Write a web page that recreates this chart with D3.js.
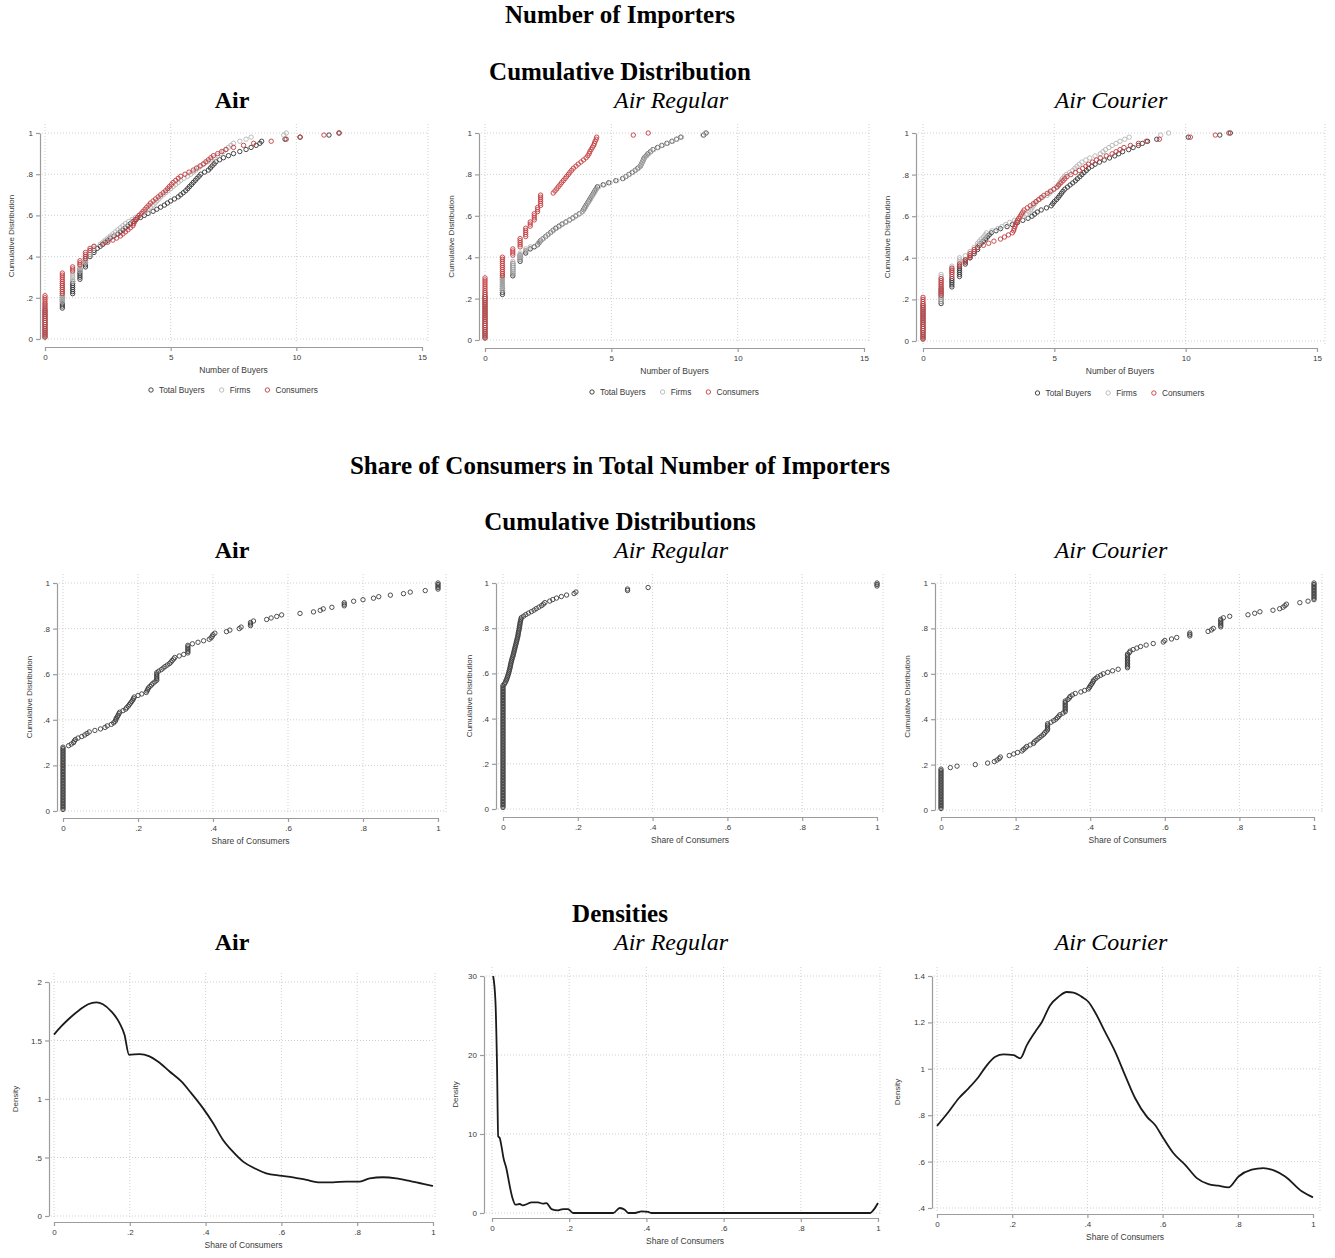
<!DOCTYPE html>
<html>
<head>
<meta charset="utf-8">
<script src="https://cdnjs.cloudflare.com/ajax/libs/d3/7.8.5/d3.min.js"></script>
<style>
body { margin: 0; background: #fff; }
text { font-family: "Liberation Sans", Arial, sans-serif; }
.ttl { font-family: "Liberation Serif", "Times New Roman", serif; }
</style>
</head>
<body>
<script>
const panelNames = ["Air", "Air Regular", "Air Courier"];
const seriesNames = ["Total Buyers", "Firms", "Consumers"];
const buyerTicks = [0, 5, 10, 15];
const cdfTicks = [0, .2, .4, .6, .8, 1];
const shareTicks = [0, .2, .4, .6, .8, 1];
const airDensTicks = [0, .5, 1, 1.5, 2];
const regDensTicks = [0, 10, 20, 30];
const courDensTicks = [.4, .6, .8, 1, 1.2, 1.4];

// number of buyers (log scale): repeated values as [value, count], single values in the tail lists
const airTotalStack = [[0,14],[0.69,7],[1.1,7],[1.39,6],[1.61,5],[1.79,2],[1.95,2],[2.08,1]];
const airTotalTail = [2.2,2.3,2.4,2.5,2.6,2.75,2.9,3.0,3.1,3.2,3.3,3.4,3.5,3.63,3.8,3.95,4.1,4.3,4.45,4.6,4.75,4.87,5.0,5.15,5.3,5.4,5.5,5.6,5.68,5.75,5.83,5.9,5.98,6.05,6.13,6.2,6.35,6.5,6.58,6.65,6.73,6.8,6.95,7.1,7.3,7.5,7.75,8.0,8.2,8.4,8.55,8.62,9.55,10.15,11.3,11.7];
const airFirmsStack = [[0,17],[0.69,10],[1.1,5],[1.39,4],[1.61,4],[1.79,3],[1.95,2]];
const airFirmsTail = [2.2,2.3,2.4,2.5,2.6,2.7,2.8,2.9,3.0,3.1,3.2,3.33,3.47,3.6,3.73,3.87,4.0,4.1,4.2,4.3,4.38,4.45,4.53,4.6,4.7,4.8,4.9,5.0,5.1,5.2,5.3,5.4,5.53,5.67,5.8,5.9,6.0,6.1,6.2,6.33,6.47,6.6,6.73,6.87,7.0,7.1,7.2,7.3,7.4,7.5,7.75,8.0,8.2,9.5,9.6];
const airConsStack = [[0,21],[0.69,11],[1.1,3],[1.39,3],[1.61,4],[1.79,2],[1.95,1]];
const airConsTail = [2.3,2.5,2.7,2.85,3.0,3.1,3.2,3.3,3.4,3.5,3.53,3.57,3.6,3.68,3.75,3.83,3.9,3.98,4.05,4.13,4.2,4.3,4.4,4.5,4.6,4.7,4.8,4.88,4.95,5.03,5.1,5.2,5.3,5.4,5.57,5.73,5.9,6.03,6.17,6.3,6.4,6.5,6.6,6.7,6.87,7.03,7.2,7.5,7.9,8.3,9.0,9.6,10.15,11.1,11.7];

const regTotalStack = [[0,21],[0.69,9],[1.1,7],[1.39,4],[1.61,2],[1.79,1],[1.95,1]];
const regTotalTail = [2.08,2.14,2.2,2.3,2.4,2.5,2.6,2.7,2.8,2.93,3.05,3.2,3.35,3.48,3.6,3.73,3.85,3.9,3.95,4.0,4.05,4.1,4.15,4.2,4.25,4.3,4.35,4.4,4.45,4.68,4.9,5.18,5.45,5.58,5.7,5.83,5.95,6.05,6.15,6.19,6.23,6.27,6.3,6.38,6.45,6.55,6.65,6.83,7.0,7.2,7.4,7.58,7.75,8.65,8.75];
const regFirmsStack = [[0,23],[0.69,8],[1.1,7],[1.39,4],[1.61,2],[1.79,1]];
const regFirmsTail = [2.06,2.12,2.22,2.32,2.42,2.52,2.62,2.72,2.84,2.96,3.08,3.22,3.36,3.5,3.62,3.75,3.86,3.92,3.97,4.02,4.07,4.12,4.17,4.22,4.27,4.32,4.37,4.42,4.5,4.72,4.95,5.22,5.48,5.6,5.72,5.86,5.97,6.08,6.16,6.2,6.24,6.28,6.32,6.4,6.48,6.57,6.68,6.86,7.03,7.23,7.43,7.6,7.78,8.62,8.72];
const regConsStack = [[0,30],[0.69,10],[1.1,4],[1.39,5],[1.61,5],[1.79,3],[1.95,4],[2.08,3],[2.2,6]];
const regConsTail = [2.7,2.77,2.84,2.9,2.97,3.03,3.1,3.17,3.23,3.3,3.36,3.43,3.5,3.6,3.69,3.8,3.9,4.0,4.07,4.12,4.15,4.2,4.25,4.3,4.33,4.36,4.4,4.42,5.87,6.46];

const courTotalStack = [[0,17],[0.69,8],[1.1,5],[1.39,6],[1.61,3],[1.79,2],[1.95,2],[2.08,2]];
const courTotalTail = [2.15,2.22,2.3,2.38,2.45,2.52,2.6,2.78,2.95,3.2,3.4,3.6,3.8,4.0,4.15,4.25,4.35,4.5,4.7,4.88,4.94,5.0,5.08,5.15,5.21,5.27,5.33,5.4,5.5,5.6,5.7,5.8,5.88,5.97,6.05,6.13,6.22,6.3,6.43,6.55,6.72,6.9,7.1,7.3,7.45,7.6,7.83,8.0,8.2,8.35,8.55,8.9,10.1,11.3,11.7];
const courFirmsStack = [[0,18],[0.69,14],[1.1,4],[1.39,4],[1.61,1],[1.79,2],[1.95,2],[2.08,2]];
const courFirmsTail = [2.15,2.22,2.3,2.36,2.42,2.63,2.85,3.0,3.15,3.3,3.48,3.65,3.8,3.96,4.03,4.1,4.15,4.2,4.26,4.32,4.44,4.55,4.72,4.81,4.9,5.0,5.1,5.15,5.2,5.25,5.3,5.38,5.45,5.58,5.7,5.78,5.86,5.95,6.05,6.2,6.35,6.55,6.75,6.85,6.95,7.08,7.2,7.35,7.5,7.68,7.85,9.05,9.35];
const courConsStack = [[0,21],[0.69,9],[1.1,5],[1.39,2],[1.61,2],[1.79,3],[1.95,2],[2.08,1]];
const courConsTail = [2.3,2.5,2.7,2.95,3.1,3.25,3.4,3.45,3.47,3.5,3.52,3.55,3.6,3.65,3.7,3.75,3.8,3.85,3.97,4.08,4.2,4.3,4.4,4.5,4.6,4.73,4.85,4.98,5.1,5.17,5.25,5.33,5.4,5.48,5.63,5.8,5.95,6.08,6.2,6.3,6.45,6.6,6.75,6.98,7.2,7.35,7.5,7.65,7.9,8.2,8.5,9.0,10.18,11.13,11.64];

// share of consumers
const airShareStack = [[0,42],[0.25,6],[0.333,6],[0.5,3],[0.75,3],[1,5]];
const airShareTail = [0.015,0.022,0.028,0.030,0.033,0.040,0.050,0.058,0.064,0.070,0.085,0.100,0.112,0.118,0.129,0.135,0.139,0.141,0.142,0.145,0.147,0.149,0.151,0.160,0.167,0.170,0.174,0.177,0.180,0.183,0.186,0.188,0.190,0.200,0.210,0.222,0.224,0.226,0.228,0.232,0.236,0.240,0.245,
  0.255,0.262,0.267,0.272,0.278,0.284,0.288,0.291,0.295,0.298,0.31,0.322,
  0.345,0.36,0.375,0.39,0.395,0.398,0.4,0.405,0.436,0.445,0.47,0.475,
  0.508,0.543,0.555,0.57,0.583,0.632,0.668,0.686,0.694,0.717,
  0.775,0.8,0.828,0.842,0.873,0.908,0.926,0.966];
const regShareStack = [[0,82],[0.333,2],[1,3]];
const regShareTail = [0.004,0.006,0.008,0.0095,0.011,0.0125,0.0135,0.015,0.016,0.017,0.018,0.019,0.0198,0.0205,0.0215,0.0225,0.0235,0.0245,0.026,0.027,0.028,0.029,0.030,0.031,0.032,0.033,0.034,0.035,0.036,0.037,0.038,0.039,0.040,0.0405,0.041,0.042,0.043,0.0435,0.044,0.045,0.0455,0.046,0.047,0.048,0.049,
  0.055,0.061,0.068,0.076,0.083,0.089,0.096,0.103,0.108,0.112,0.125,0.133,0.143,0.156,0.17,0.19,0.195,0.388];
const courShareStack = [[0,27],[0.2857,5],[0.333,8],[0.5,10],[0.667,3],[0.75,6],[1,12]];
const courShareTail = [0.025,0.043,0.092,0.125,0.143,0.15,0.156,0.159,0.183,0.195,0.205,0.217,0.221,0.226,0.23,0.239,0.248,0.25,0.255,0.26,0.265,0.27,0.275,0.278,0.282,
  0.295,0.302,0.308,0.312,0.316,0.319,0.327,
  0.34,0.344,0.346,0.352,0.36,0.375,0.385,0.395,0.398,0.4,0.403,0.406,0.408,0.41,0.415,0.42,0.428,0.435,0.447,0.46,0.475,
  0.505,0.507,0.515,0.525,0.535,0.55,0.569,0.596,0.6,0.618,0.632,
  0.716,0.725,0.73,
  0.757,0.774,0.823,0.841,0.855,0.89,0.908,0.917,0.922,0.926,0.962,0.984];

// kernel densities [share, density]
const airDensity = [[0,1.55],[0.019,1.62],[0.041,1.69],[0.068,1.763],[0.09,1.81],[0.112,1.826],[0.129,1.81],[0.151,1.749],[0.173,1.649],[0.186,1.549],[0.198,1.378],[0.226,1.384],[0.252,1.364],[0.274,1.321],[0.305,1.235],[0.336,1.15],[0.362,1.05],[0.393,0.922],[0.42,0.793],[0.446,0.65],[0.472,0.55],[0.499,0.465],[0.529,0.408],[0.56,0.365],[0.595,0.345],[0.631,0.331],[0.666,0.308],[0.697,0.288],[0.736,0.288],[0.771,0.294],[0.807,0.294],[0.833,0.322],[0.868,0.331],[0.903,0.322],[0.938,0.3],[0.974,0.274],[1,0.257]];
const regDensity = [[0.003,30],[0.009,26.7],[0.013,18.7],[0.016,9.7],[0.02,9.5],[0.024,8.6],[0.03,6.9],[0.037,5.7],[0.046,3.4],[0.053,1.9],[0.061,1.05],[0.072,1.14],[0.08,0.97],[0.091,1.14],[0.102,1.35],[0.119,1.35],[0.132,1.18],[0.141,1.26],[0.154,0.5],[0.171,0.34],[0.184,0.5],[0.197,0.5],[0.21,0],[0.314,0],[0.331,0.63],[0.344,0.42],[0.353,0],[0.37,0],[0.388,0.21],[0.405,0.13],[0.413,0],[0.98,0],[0.989,0.42],[1,1.26]];
const courDensity = [[0,0.754],[0.031,0.815],[0.058,0.873],[0.084,0.916],[0.111,0.966],[0.133,1.016],[0.155,1.052],[0.177,1.062],[0.204,1.059],[0.221,1.045],[0.239,1.102],[0.261,1.159],[0.279,1.202],[0.301,1.274],[0.323,1.31],[0.345,1.331],[0.363,1.328],[0.385,1.31],[0.403,1.288],[0.42,1.245],[0.447,1.159],[0.474,1.073],[0.5,0.973],[0.527,0.873],[0.558,0.794],[0.58,0.758],[0.602,0.701],[0.629,0.636],[0.66,0.586],[0.691,0.529],[0.722,0.503],[0.748,0.496],[0.775,0.489],[0.802,0.536],[0.837,0.565],[0.868,0.572],[0.899,0.56],[0.926,0.536],[0.97,0.472],[1,0.446]];

const colTotal = "#333333", colFirms = "#b4b4b4", colCons = "#c23b3e", colShare = "#3c3c3c";

const svg = d3.select("body").append("svg").attr("width", 1335).attr("height", 1258);

function ecdf(stack, tail) {
  const xs = [];
  stack.forEach(([v, n]) => { for (let i = 0; i < n; i++) xs.push(v); });
  tail.forEach(v => xs.push(v));
  xs.sort(d3.ascending);
  return xs.map((v, i) => ({ x: v, y: (i + 1) / xs.length }));
}

const fmt = d => String(Math.round(d * 1000) / 1000).replace(/^0\./, ".");

function title(txt, x, y, bold, italic, size) {
  svg.append("text").attr("class", "ttl").attr("x", x).attr("y", y)
    .attr("text-anchor", "middle").attr("font-size", size)
    .attr("font-weight", bold ? "bold" : "normal")
    .attr("font-style", italic ? "italic" : "normal")
    .attr("fill", "#000").text(txt);
}

function panel(p) {
  const g = svg.append("g");
  const x = d3.scaleLinear().domain(p.xDom).range(p.xr);
  const y = d3.scaleLinear().domain(p.yDom).range(p.yr);
  const top = p.yr[1] - 9, bottom = p.yr[0] + 3;

  // dotted grid
  g.selectAll("line.gh").data(p.yTicks).join("line").attr("class", "gh")
    .attr("x1", p.axisX + 2).attr("x2", p.right).attr("y1", d => y(d)).attr("y2", d => y(d));
  g.selectAll("line.gv").data(p.xTicks.slice(0, -1).map(x).concat([p.right])).join("line").attr("class", "gv")
    .attr("x1", d => d).attr("x2", d => d).attr("y1", top).attr("y2", bottom);
  g.selectAll("line.gh, line.gv").attr("stroke", "#c4c4c4").attr("stroke-width", 0.8).attr("stroke-dasharray", "1,2");

  const ay = g.append("g").attr("transform", `translate(${p.axisX},0)`)
    .call(d3.axisLeft(y).tickValues(p.yTicks).tickFormat(fmt).tickSize(4).tickSizeOuter(0).tickPadding(3));
  const ax = g.append("g").attr("transform", `translate(0,${p.axisY})`)
    .call(d3.axisBottom(x).tickValues(p.xTicks).tickFormat(fmt).tickSize(4).tickSizeOuter(0).tickPadding(3));
  [ay, ax].forEach(a => {
    a.selectAll("path, line").attr("stroke", "#9c9c9c").attr("stroke-width", 1.2);
    a.selectAll("text").attr("font-size", 8).attr("fill", "#3a3a3a")
      .attr("font-family", "'Liberation Sans', Arial, sans-serif");
  });

  g.append("text").attr("transform", `translate(${p.yTitleX},${(p.yr[0] + p.yr[1]) / 2}) rotate(-90)`)
    .attr("text-anchor", "middle").attr("font-size", 8).attr("fill", "#3a3a3a").text(p.yTitle);
  g.append("text").attr("x", (p.xr[0] + p.xr[1]) / 2).attr("y", p.axisY + 26)
    .attr("text-anchor", "middle").attr("font-size", 8.5).attr("fill", "#3a3a3a").text(p.xTitle);

  (p.series || []).forEach(s => {
    g.append("g").selectAll("circle").data(s.points).join("circle")
      .attr("cx", d => x(d.x)).attr("cy", d => y(d.y)).attr("r", 2.2)
      .attr("fill", "none").attr("stroke", s.color).attr("stroke-width", 0.9);
  });

  if (p.density) {
    const line = d3.line().x(d => x(d[0])).y(d => y(d[1])).curve(d3.curveMonotoneX);
    g.append("path").datum(p.density).attr("d", line)
      .attr("fill", "none").attr("stroke", "#1a1a1a").attr("stroke-width", 1.8);
  }

  if (p.legY) {
    const colors = [colTotal, colFirms, colCons];
    const lg = g.append("g");
    let cx = 0;
    seriesNames.forEach((name, i) => {
      lg.append("circle").attr("cx", cx).attr("cy", 0).attr("r", 2.2)
        .attr("fill", "none").attr("stroke", colors[i]).attr("stroke-width", 0.9);
      const t = lg.append("text").attr("x", cx + 8).attr("y", 3).attr("font-size", 8.3)
        .attr("fill", "#3a3a3a").text(name);
      cx += 8 + t.node().getComputedTextLength() + 17;
    });
    const w = lg.node().getBBox().width;
    lg.attr("transform", `translate(${(p.xr[0] + p.xr[1]) / 2 - w / 2 + 2},${p.legY})`);
  }
}

// headings
title("Number of Importers", 620, 23, true, false, 25);
title("Cumulative Distribution", 620, 80, true, false, 25);
title("Share of Consumers in Total Number of Importers", 620, 474, true, false, 25);
title("Cumulative Distributions", 620, 530, true, false, 25);
title("Densities", 620, 922, true, false, 25);
const labelX = [232, 671, 1111];
[108, 558, 950].forEach(yy => {
  panelNames.forEach((n, i) => title(n, labelX[i], yy, i === 0, i !== 0, 24));
});

// row 1: number of buyers
const topLayout = [
  { xr: [45, 422], yr: [339, 133], axisX: 40, axisY: 347, right: 428, yTitleX: 14, legY: 390 },
  { xr: [485, 864], yr: [340, 133], axisX: 479, axisY: 348, right: 869, yTitleX: 454, legY: 392 },
  { xr: [923, 1317], yr: [341, 133], axisX: 916, axisY: 348, right: 1325, yTitleX: 890, legY: 393 }
];
const topSeries = [
  [[airTotalStack, airTotalTail], [airFirmsStack, airFirmsTail], [airConsStack, airConsTail]],
  [[regTotalStack, regTotalTail], [regFirmsStack, regFirmsTail], [regConsStack, regConsTail]],
  [[courTotalStack, courTotalTail], [courFirmsStack, courFirmsTail], [courConsStack, courConsTail]]
];
topLayout.forEach((l, i) => panel(Object.assign({
  xDom: [0, 15], yDom: [0, 1], xTicks: buyerTicks, yTicks: cdfTicks,
  xTitle: "Number of Buyers", yTitle: "Cumulative Distribution",
  series: topSeries[i].map((s, j) => ({ points: ecdf(s[0], s[1]), color: [colTotal, colFirms, colCons][j] }))
}, l)));

// row 2: share of consumers, cumulative
const midLayout = [
  { xr: [63, 438], yr: [811, 583], axisX: 57, axisY: 818, right: 446, yTitleX: 32 },
  { xr: [503, 877], yr: [809, 583], axisX: 496, axisY: 817, right: 883, yTitleX: 472 },
  { xr: [941, 1314], yr: [810, 583], axisX: 935, axisY: 817, right: 1322, yTitleX: 910 }
];
const midSeries = [[airShareStack, airShareTail], [regShareStack, regShareTail], [courShareStack, courShareTail]];
midLayout.forEach((l, i) => panel(Object.assign({
  xDom: [0, 1], yDom: [0, 1], xTicks: shareTicks, yTicks: cdfTicks,
  xTitle: "Share of Consumers", yTitle: "Cumulative Distribution",
  series: [{ points: ecdf(midSeries[i][0], midSeries[i][1]), color: colShare }]
}, l)));

// row 3: densities
const botLayout = [
  { xr: [54, 433], yr: [1216, 982], axisX: 49, axisY: 1222, right: 435, yTitleX: 18, yDom: [0, 2], yTicks: airDensTicks, density: airDensity },
  { xr: [492, 878], yr: [1213, 976], axisX: 484, axisY: 1218, right: 880, yTitleX: 458, yDom: [0, 30], yTicks: regDensTicks, density: regDensity },
  { xr: [937, 1313], yr: [1208, 976], axisX: 932, axisY: 1214, right: 1320, yTitleX: 900, yDom: [.4, 1.4], yTicks: courDensTicks, density: courDensity }
];
botLayout.forEach(l => panel(Object.assign({
  xDom: [0, 1], xTicks: shareTicks, xTitle: "Share of Consumers", yTitle: "Density"
}, l)));
</script>
</body>
</html>
